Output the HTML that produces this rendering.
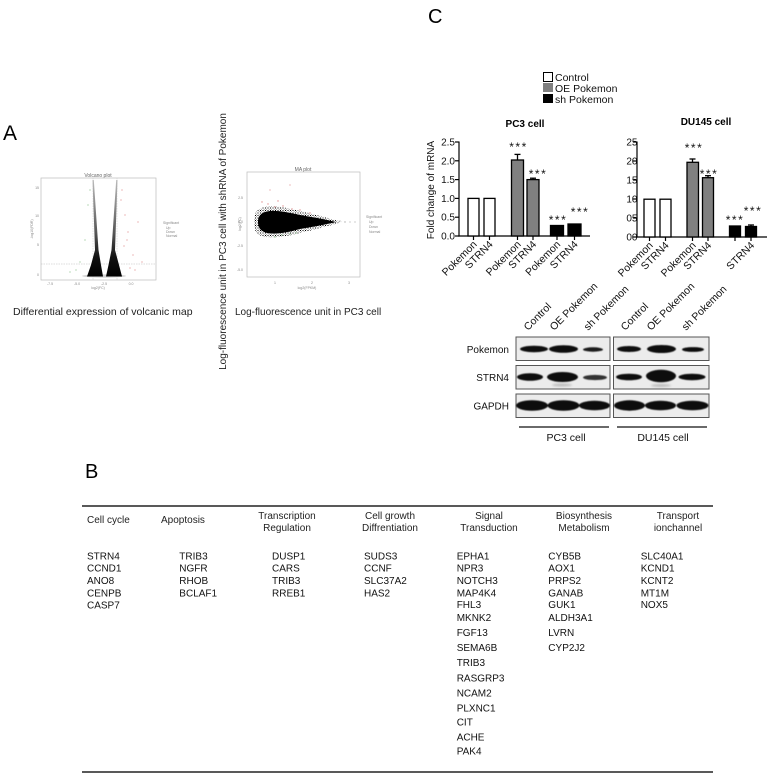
<!DOCTYPE html>
<html>
<head>
<meta charset="utf-8">
<style>
  html,body{margin:0;padding:0;background:#fff;}
  svg{display:block;}
  text{font-family:"Liberation Sans",Arial,sans-serif;}
</style>
</head>
<body>
<svg width="767" height="775" viewBox="0 0 767 775" xmlns="http://www.w3.org/2000/svg">
  <defs>
    <linearGradient id="armg" x1="0" y1="0" x2="0" y2="1">
      <stop offset="0" stop-color="#bbb"/>
      <stop offset="0.55" stop-color="#555"/>
      <stop offset="0.8" stop-color="#111"/>
      <stop offset="1" stop-color="#000"/>
    </linearGradient>
    <pattern id="speck" width="2.5" height="2.5" patternUnits="userSpaceOnUse">
      <rect x="0" y="0" width="1" height="1" fill="#000"/>
      <rect x="1.3" y="1.4" width="0.7" height="0.7" fill="#333"/>
    </pattern>
    <filter id="blur1" x="-20%" y="-50%" width="140%" height="200%">
      <feGaussianBlur stdDeviation="1.1"/>
    </filter>
    <filter id="blur05" x="-20%" y="-50%" width="140%" height="200%">
      <feGaussianBlur stdDeviation="0.6"/>
    </filter>
  </defs>
  <rect width="767" height="775" fill="#fff"/>

  <!-- ================= Panel A ================= -->
  <text x="3" y="140" font-size="21">A</text>

  <!-- Volcano plot -->
  <rect x="41" y="178" width="115" height="102" fill="#fff" stroke="#bbb" stroke-width="0.7"/>
  <text x="98" y="177" font-size="5" fill="#666" text-anchor="middle">Volcano plot</text>
  <line x1="93" y1="178" x2="93" y2="280" stroke="#ccc" stroke-width="0.5" stroke-dasharray="1.5,1"/>
  <line x1="117" y1="178" x2="117" y2="280" stroke="#ccc" stroke-width="0.5" stroke-dasharray="1.5,1"/>
  <line x1="41" y1="264" x2="156" y2="264" stroke="#bbb" stroke-width="0.6" stroke-dasharray="1.5,1"/>
  <g font-size="3.5" fill="#888" text-anchor="end">
    <text x="39" y="189">15</text><text x="39" y="217">10</text><text x="39" y="246">5</text><text x="39" y="276">0</text>
  </g>
  <g font-size="3.5" fill="#888" text-anchor="middle">
    <text x="50" y="285">-7.5</text><text x="77" y="285">-5.0</text><text x="104" y="285">-2.5</text><text x="131" y="285">0.0</text>
    <text x="98" y="289">log2(FC)</text>
  </g>
  <text transform="translate(33,229) rotate(-90)" font-size="3.5" fill="#888" text-anchor="middle">-log10(FDR)</text>
  <ellipse cx="104" cy="276" rx="22" ry="1.6" fill="#999" opacity="0.45"/>
  <polygon points="92.5,180 93.8,180 98.5,250 101,265 103,276.5 87,276.5 91,265 95,250" fill="url(#armg)"/>
  <polygon points="116.2,180 117.5,180 115,250 119,265 122,276.5 106,276.5 108.5,265 111.5,250" fill="url(#armg)"/>
  <g fill="#e08a8a">
    <circle cx="121" cy="200" r="0.6"/><circle cx="125" cy="215" r="0.6"/><circle cx="128" cy="232" r="0.6"/><circle cx="124" cy="246" r="0.6"/>
    <circle cx="133" cy="255" r="0.6"/><circle cx="130" cy="268" r="0.6"/><circle cx="122" cy="190" r="0.6"/><circle cx="138" cy="222" r="0.6"/>
    <circle cx="127" cy="240" r="0.6"/><circle cx="135" cy="270" r="0.6"/><circle cx="142" cy="262" r="0.6"/>
  </g>
  <g fill="#8ac08a">
    <circle cx="88" cy="205" r="0.6"/><circle cx="85" cy="240" r="0.6"/><circle cx="80" cy="262" r="0.6"/><circle cx="76" cy="270" r="0.6"/>
    <circle cx="90" cy="190" r="0.6"/><circle cx="70" cy="272" r="0.6"/>
  </g>
  <g font-size="3.5" fill="#888">
    <text x="163" y="224">Significant</text>
    <text x="166" y="229">Up</text>
    <text x="166" y="233">Down</text>
    <text x="166" y="237">Normal</text>
  </g>
  <text x="13" y="315" font-size="10.5" fill="#222">Differential expression of volcanic map</text>

  <!-- MA plot -->
  <text transform="translate(226,241.5) rotate(-90)" font-size="10" fill="#222" text-anchor="middle">Log-fluorescence unit in PC3 cell with shRNA of Pokemon</text>
  <rect x="247" y="172" width="113" height="105" fill="#fff" stroke="#bbb" stroke-width="0.7"/>
  <text x="303" y="171" font-size="5" fill="#666" text-anchor="middle">MA plot</text>
  <g font-size="3.5" fill="#888" text-anchor="end">
    <text x="243" y="199">2.5</text><text x="243" y="223">0.0</text><text x="243" y="247">-2.5</text><text x="243" y="271">-5.0</text>
  </g>
  <g font-size="3.5" fill="#888" text-anchor="middle">
    <text x="275" y="284">1</text><text x="312" y="284">2</text><text x="349" y="284">3</text>
    <text x="307" y="289">log2(FPKM)</text>
  </g>
  <text transform="translate(241,224) rotate(-90)" font-size="3.5" fill="#888" text-anchor="middle">log2(FC)</text>
  <path d="M254,222 C253,203 272,204 300,211 C318,215 332,219 342,222 C332,225 318,229 300,233 C272,240 253,241 254,222 Z" fill="url(#speck)"/>
  <path d="M258,222 C258,208 275,209 300,215 C318,218 328,220 336,222 C328,224 318,226 300,229 C275,236 258,236 258,222 Z" fill="#000"/>
  <g fill="#e09090">
    <circle cx="268" cy="204" r="0.7"/><circle cx="275" cy="207" r="0.7"/><circle cx="283" cy="206" r="0.7"/><circle cx="292" cy="209" r="0.7"/>
    <circle cx="300" cy="210" r="0.7"/><circle cx="262" cy="202" r="0.7"/><circle cx="278" cy="201" r="0.7"/><circle cx="310" cy="213" r="0.7"/>
    <circle cx="270" cy="190" r="0.6"/><circle cx="290" cy="185" r="0.6"/>
  </g>
  <g fill="#90c090">
    <circle cx="282" cy="235" r="0.7"/><circle cx="290" cy="234" r="0.7"/><circle cx="296" cy="233" r="0.7"/><circle cx="275" cy="237" r="0.7"/>
  </g>
  <g fill="#aaa">
    <circle cx="345" cy="222" r="0.7"/><circle cx="350" cy="222" r="0.6"/><circle cx="355" cy="222" r="0.6"/><circle cx="340" cy="221" r="0.6"/>
  </g>
  <g font-size="3.5" fill="#888">
    <text x="366" y="218">Significant</text>
    <text x="369" y="223">Up</text>
    <text x="369" y="228">Down</text>
    <text x="369" y="233">Normal</text>
  </g>
  <text x="235" y="315" font-size="10" fill="#222">Log-fluorescence unit in PC3 cell</text>

  <!-- ================= Panel C ================= -->
  <text x="428" y="23" font-size="20">C</text>

  <!-- Legend -->
  <rect x="543.5" y="72.5" width="9" height="9" fill="#fff" stroke="#000" stroke-width="1"/>
  <rect x="543" y="83" width="10" height="9" fill="#808080"/>
  <rect x="543" y="94" width="10" height="9" fill="#000"/>
  <g font-size="10.5" fill="#111">
    <text x="555" y="81">Control</text>
    <text x="555" y="92">OE Pokemon</text>
    <text x="555" y="103">sh Pokemon</text>
  </g>

  <!-- PC3 chart -->
  <text x="525" y="127" font-size="10" font-weight="bold" text-anchor="middle">PC3 cell</text>
  <text transform="translate(434,190) rotate(-90)" font-size="10" text-anchor="middle" fill="#111">Fold change of mRNA</text>
  <g stroke="#000" stroke-width="1.2">
    <line x1="459" y1="141.5" x2="459" y2="236.6"/>
    <line x1="458.4" y1="236" x2="590" y2="236"/>
    <line x1="455" y1="142" x2="459" y2="142"/>
    <line x1="455" y1="160.8" x2="459" y2="160.8"/>
    <line x1="455" y1="179.6" x2="459" y2="179.6"/>
    <line x1="455" y1="198.4" x2="459" y2="198.4"/>
    <line x1="455" y1="217.2" x2="459" y2="217.2"/>
    <line x1="455" y1="236" x2="459" y2="236"/>
    <line x1="473.5" y1="236" x2="473.5" y2="240"/>
    <line x1="489.5" y1="236" x2="489.5" y2="240"/>
    <line x1="517.5" y1="236" x2="517.5" y2="240"/>
    <line x1="533" y1="236" x2="533" y2="240"/>
    <line x1="557" y1="236" x2="557" y2="240"/>
    <line x1="574.5" y1="236" x2="574.5" y2="240"/>
  </g>
  <g font-size="10" text-anchor="end" fill="#111">
    <text x="455" y="145.5">2.5</text>
    <text x="455" y="164.3">2.0</text>
    <text x="455" y="183.1">1.5</text>
    <text x="455" y="201.9">1.0</text>
    <text x="455" y="220.7">0.5</text>
    <text x="455" y="239.5">0.0</text>
  </g>
  <g stroke="#000" stroke-width="1.3">
    <rect x="468" y="198.4" width="11" height="37.6" fill="#fff"/>
    <rect x="484" y="198.4" width="11" height="37.6" fill="#fff"/>
    <line x1="517.5" y1="160" x2="517.5" y2="154.4"/>
    <line x1="514.5" y1="154.4" x2="520.5" y2="154.4"/>
    <rect x="511.5" y="160" width="12" height="76" fill="#808080"/>
    <line x1="533" y1="179.6" x2="533" y2="178.2"/>
    <line x1="530" y1="178.2" x2="536" y2="178.2"/>
    <rect x="527" y="179.6" width="12" height="56.4" fill="#808080"/>
    <rect x="550.5" y="225.5" width="13" height="10.5" fill="#000"/>
    <rect x="568" y="224" width="13" height="12" fill="#000"/>
  </g>
  <g font-size="12" text-anchor="middle" letter-spacing="1.5" fill="#111">
    <text x="518.5" y="150.8">***</text>
    <text x="538" y="177.8">***</text>
    <text x="558" y="223.8">***</text>
    <text x="580" y="215.8">***</text>
  </g>
  <g font-size="10.5" text-anchor="end" fill="#111">
    <text transform="translate(477.5,245) rotate(-45)">Pokemon</text>
    <text transform="translate(493.5,245) rotate(-45)">STRN4</text>
    <text transform="translate(521.5,245) rotate(-45)">Pokemon</text>
    <text transform="translate(537,245) rotate(-45)">STRN4</text>
    <text transform="translate(561,245) rotate(-45)">Pokemon</text>
    <text transform="translate(578.5,245) rotate(-45)">STRN4</text>
  </g>

  <!-- DU145 chart -->
  <text x="706" y="125" font-size="10" font-weight="bold" text-anchor="middle">DU145 cell</text>
  <g font-size="10" text-anchor="end" fill="#111">
    <text x="637.5" y="145.5">25</text>
    <text x="637.5" y="164.5">20</text>
    <text x="637.5" y="183.5">15</text>
    <text x="637.5" y="202.5">10</text>
    <text x="637.5" y="221.5">05</text>
    <text x="637.5" y="240.5">00</text>
  </g>
  <g stroke="#000" stroke-width="1.2">
    <line x1="637" y1="141.5" x2="637" y2="237.6"/>
    <line x1="636.4" y1="237" x2="767" y2="237"/>
    <line x1="633" y1="142" x2="637" y2="142"/>
    <line x1="633" y1="161" x2="637" y2="161"/>
    <line x1="633" y1="180" x2="637" y2="180"/>
    <line x1="633" y1="199" x2="637" y2="199"/>
    <line x1="633" y1="218" x2="637" y2="218"/>
    <line x1="633" y1="237" x2="637" y2="237"/>
    <line x1="649.5" y1="237" x2="649.5" y2="241"/>
    <line x1="665.5" y1="237" x2="665.5" y2="241"/>
    <line x1="692.5" y1="237" x2="692.5" y2="241"/>
    <line x1="708" y1="237" x2="708" y2="241"/>
    <line x1="735" y1="237" x2="735" y2="241"/>
    <line x1="751" y1="237" x2="751" y2="241"/>
  </g>
  <g stroke="#000" stroke-width="1.3">
    <rect x="644" y="199.2" width="11" height="37.8" fill="#fff"/>
    <rect x="660" y="199.2" width="11" height="37.8" fill="#fff"/>
    <line x1="692.5" y1="162.3" x2="692.5" y2="159"/>
    <line x1="689.5" y1="159" x2="695.5" y2="159"/>
    <rect x="687" y="162.3" width="11.5" height="74.7" fill="#808080"/>
    <line x1="708" y1="177.7" x2="708" y2="175.7"/>
    <line x1="705" y1="175.7" x2="711" y2="175.7"/>
    <rect x="702.5" y="177.7" width="11" height="59.3" fill="#808080"/>
    <rect x="729.5" y="226" width="11" height="11" fill="#000"/>
    <line x1="751" y1="226.5" x2="751" y2="225"/>
    <line x1="748" y1="225" x2="754" y2="225"/>
    <rect x="745.5" y="226.5" width="11" height="10.5" fill="#000"/>
  </g>
  <g font-size="12" text-anchor="middle" letter-spacing="1.5" fill="#111">
    <text x="694" y="151.8">***</text>
    <text x="709" y="177.8">***</text>
    <text x="735" y="223.8">***</text>
    <text x="753" y="214.8">***</text>
  </g>
  <g font-size="10.5" text-anchor="end" fill="#111">
    <text transform="translate(653.5,246) rotate(-45)">Pokemon</text>
    <text transform="translate(669.5,246) rotate(-45)">STRN4</text>
    <text transform="translate(696.5,246) rotate(-45)">Pokemon</text>
    <text transform="translate(712,246) rotate(-45)">STRN4</text>
    <text transform="translate(755,246) rotate(-45)">STRN4</text>
  </g>

  <!-- Western blot -->
  <g font-size="10.5" fill="#111">
    <text transform="translate(528,331) rotate(-45)">Control</text>
    <text transform="translate(554,331) rotate(-45)">OE Pokemon</text>
    <text transform="translate(588,331) rotate(-45)">sh Pokemon</text>
    <text transform="translate(625,331) rotate(-45)">Control</text>
    <text transform="translate(651,331) rotate(-45)">OE Pokemon</text>
    <text transform="translate(686,331) rotate(-45)">sh Pokemon</text>
  </g>
  <g font-size="10" fill="#111" text-anchor="end">
    <text x="509" y="353">Pokemon</text>
    <text x="509" y="381">STRN4</text>
    <text x="509" y="409.5">GAPDH</text>
  </g>
  <g fill="#ececec" stroke="#555" stroke-width="1">
    <rect x="516" y="337" width="94" height="23.5"/>
    <rect x="613.5" y="337" width="95.5" height="23.5"/>
    <rect x="516" y="365.5" width="94" height="23.5"/>
    <rect x="613.5" y="365.5" width="95.5" height="23.5"/>
    <rect x="516" y="394" width="94" height="23.5"/>
    <rect x="613.5" y="394" width="95.5" height="23.5"/>
  </g>
  <g fill="#0a0a0a" filter="url(#blur05)">
    <!-- Pokemon row -->
    <ellipse cx="534" cy="349" rx="14" ry="3.2"/>
    <ellipse cx="563.5" cy="349" rx="14.5" ry="3.8"/>
    <ellipse cx="593" cy="349.5" rx="10" ry="2.2" fill="#1a1a1a"/>
    <ellipse cx="629" cy="349" rx="12" ry="3"/>
    <ellipse cx="661.5" cy="349" rx="14.5" ry="4"/>
    <ellipse cx="693" cy="349.5" rx="11" ry="2.4"/>
    <!-- STRN4 row -->
    <ellipse cx="530" cy="377" rx="13" ry="3.8"/>
    <ellipse cx="562.5" cy="377" rx="15.5" ry="5"/>
    <ellipse cx="595" cy="377.5" rx="12" ry="2.6" fill="#333"/>
    <ellipse cx="629" cy="377" rx="13" ry="3.3"/>
    <ellipse cx="661" cy="376" rx="15" ry="6.2"/>
    <ellipse cx="692" cy="377" rx="13.5" ry="3.2"/>
    <!-- GAPDH row -->
    <ellipse cx="532" cy="405.5" rx="16" ry="5.3"/>
    <ellipse cx="563.5" cy="405.5" rx="16" ry="5.3"/>
    <ellipse cx="594.5" cy="405.5" rx="15.5" ry="4.8"/>
    <ellipse cx="629.5" cy="405.5" rx="15.5" ry="5.2"/>
    <ellipse cx="660.5" cy="405.5" rx="15.5" ry="4.8"/>
    <ellipse cx="692.5" cy="405.5" rx="16" ry="4.8"/>
  </g>
  <ellipse cx="562" cy="385" rx="10" ry="1.5" fill="#bbb" filter="url(#blur1)"/>
  <ellipse cx="661" cy="385.5" rx="10" ry="1.5" fill="#bbb" filter="url(#blur1)"/>
  <g stroke="#111" stroke-width="1.2">
    <line x1="519" y1="427" x2="609" y2="427"/>
    <line x1="617" y1="427" x2="707" y2="427"/>
  </g>
  <g font-size="10.5" fill="#111" text-anchor="middle">
    <text x="566" y="441">PC3 cell</text>
    <text x="663" y="441">DU145 cell</text>
  </g>

  <!-- ================= Panel B ================= -->
  <text x="85" y="478" font-size="20">B</text>
  <line x1="82" y1="506" x2="713" y2="506" stroke="#222" stroke-width="1.5"/>
  <line x1="82" y1="772" x2="713" y2="772" stroke="#222" stroke-width="1.5"/>

  <g font-size="10" fill="#222">
    <text x="87" y="523">Cell cycle</text>
    <text x="161" y="523">Apoptosis</text>
    <g text-anchor="middle">
      <text x="287" y="519">Transcription</text>
      <text x="287" y="531">Regulation</text>
      <text x="390" y="519">Cell growth</text>
      <text x="390" y="531">Diffrentiation</text>
      <text x="489" y="519">Signal</text>
      <text x="489" y="531">Transduction</text>
      <text x="584" y="519">Biosynthesis</text>
      <text x="584" y="531">Metabolism</text>
      <text x="678" y="519">Transport</text>
      <text x="678" y="531">ionchannel</text>
    </g>
  </g>

  <g font-size="10" fill="#111">
    <!-- col 1 -->
    <text x="87" y="559.6">STRN4</text>
    <text x="87" y="571.6">CCND1</text>
    <text x="87" y="583.8">ANO8</text>
    <text x="87" y="596.4">CENPB</text>
    <text x="87" y="608.6">CASP7</text>
    <!-- col 2 -->
    <text x="179.3" y="559.6">TRIB3</text>
    <text x="179.3" y="571.6">NGFR</text>
    <text x="179.3" y="583.8">RHOB</text>
    <text x="179.3" y="596.4">BCLAF1</text>
    <!-- col 3 -->
    <text x="272" y="559.6">DUSP1</text>
    <text x="272" y="571.6">CARS</text>
    <text x="272" y="583.8">TRIB3</text>
    <text x="272" y="596.4">RREB1</text>
    <!-- col 4 -->
    <text x="364" y="559.6">SUDS3</text>
    <text x="364" y="571.6">CCNF</text>
    <text x="364" y="583.8">SLC37A2</text>
    <text x="364" y="596.4">HAS2</text>
    <!-- col 5 -->
    <text x="456.7" y="559.6">EPHA1</text>
    <text x="456.7" y="571.6">NPR3</text>
    <text x="456.7" y="583.8">NOTCH3</text>
    <text x="456.7" y="596.4">MAP4K4</text>
    <text x="456.7" y="608.2">FHL3</text>
    <text x="456.7" y="620.8">MKNK2</text>
    <text x="456.7" y="635.8">FGF13</text>
    <text x="456.7" y="650.8">SEMA6B</text>
    <text x="456.7" y="665.8">TRIB3</text>
    <text x="456.7" y="681.4">RASGRP3</text>
    <text x="456.7" y="696.4">NCAM2</text>
    <text x="456.7" y="711.4">PLXNC1</text>
    <text x="456.7" y="725.4">CIT</text>
    <text x="456.7" y="740.4">ACHE</text>
    <text x="456.7" y="754.6">PAK4</text>
    <!-- col 6 -->
    <text x="548.3" y="559.6">CYB5B</text>
    <text x="548.3" y="571.6">AOX1</text>
    <text x="548.3" y="583.8">PRPS2</text>
    <text x="548.3" y="596.4">GANAB</text>
    <text x="548.3" y="608.2">GUK1</text>
    <text x="548.3" y="620.8">ALDH3A1</text>
    <text x="548.3" y="635.8">LVRN</text>
    <text x="548.3" y="650.8">CYP2J2</text>
    <!-- col 7 -->
    <text x="640.7" y="559.6">SLC40A1</text>
    <text x="640.7" y="571.6">KCND1</text>
    <text x="640.7" y="583.8">KCNT2</text>
    <text x="640.7" y="596.4">MT1M</text>
    <text x="640.7" y="608.2">NOX5</text>
  </g>
</svg>
</body>
</html>
